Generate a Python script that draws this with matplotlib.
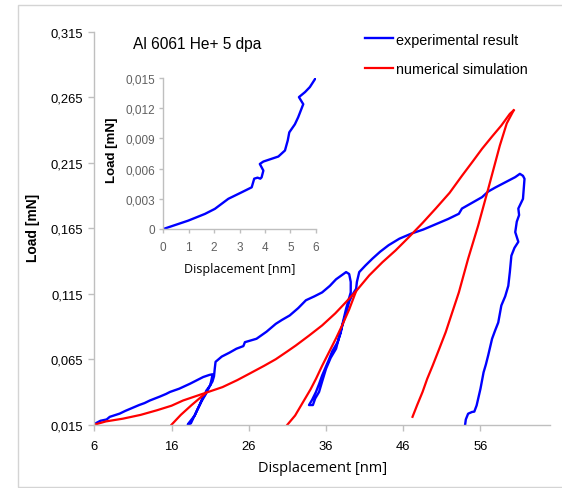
import matplotlib
matplotlib.use("Agg")
import matplotlib.pyplot as plt
from matplotlib.patches import Rectangle
from matplotlib.ticker import FuncFormatter, FixedLocator
from matplotlib import font_manager

plt.rcParams['font.family'] = ['Liberation Sans', 'DejaVu Sans']
_names = {f.name for f in font_manager.fontManager.ttflist}
narrow = 'Liberation Sans Narrow' if 'Liberation Sans Narrow' in _names else 'Liberation Sans'
tick_main = 10.8 if narrow != 'Liberation Sans' else 9.4
tick_inset = 9.3 if narrow != 'Liberation Sans' else 8.5

# ---------------- data ----------------
exp_x = [6.0, 6.8, 7.6, 8.0, 9.3, 10.0, 10.6, 11.8, 12.5, 13.2, 14.5, 15.3, 15.8, 17.0, 18.4, 19.3, 20.1, 20.9, 21.3,
         21.2, 21.0, 20.5, 20.3, 19.9, 19.7, 19.3, 19.0, 18.6, 18.2, 18.1,
         18.5, 18.9, 19.4, 19.9, 20.4, 20.9, 21.3, 21.5, 21.6, 21.7, 22.5, 23.5, 24.4, 25.3, 25.5, 27.0,
         28.3, 29.5, 30.3, 31.3, 32.4, 33.4, 34.5, 35.5, 36.5, 37.3, 38.0, 38.6, 39.0,
         39.2, 39.2, 38.6, 38.1, 37.9, 37.5, 36.8, 36.4, 35.9, 35.5, 35.1, 34.7, 34.2, 33.8,
         34.3, 34.6, 35.1, 35.5, 36.0, 36.6, 37.3, 37.7, 38.1, 38.6, 39.0, 39.4, 39.9, 40.0, 40.3,
         41.1, 42.0, 43.0, 44.1, 45.5, 47.1, 48.6, 50.2, 51.8, 53.2, 53.6, 54.8, 56.2, 57.0, 57.9,
         59.2, 60.5, 61.1, 61.5, 61.7,
         61.6, 61.5, 60.9, 61.0, 60.7, 60.5, 60.9, 60.4, 60.0, 59.8, 59.6, 59.2, 58.7, 58.3, 57.9,
         57.5, 57.0, 56.7, 56.4, 56.0, 55.5, 55.2, 54.9, 54.4, 54.1, 54.0]
exp_y = [0.0155, 0.018, 0.019, 0.021, 0.0235, 0.0255, 0.027, 0.030, 0.0315, 0.0335, 0.0365, 0.0385, 0.040, 0.0425,
         0.0463, 0.049, 0.0514, 0.053, 0.0535,
         0.050, 0.045, 0.041, 0.038, 0.034, 0.031, 0.026, 0.022, 0.019, 0.016, 0.015,
         0.016, 0.021, 0.027, 0.033, 0.038, 0.044, 0.048, 0.052, 0.058, 0.063, 0.067, 0.070, 0.073, 0.075, 0.078, 0.0806,
         0.086, 0.092, 0.095, 0.0984, 0.104, 0.110, 0.113, 0.116, 0.121, 0.126, 0.129, 0.1315, 0.130,
         0.124, 0.116, 0.1035, 0.091, 0.085, 0.078, 0.071, 0.065, 0.058, 0.0526, 0.046, 0.040, 0.034, 0.030,
         0.030, 0.035, 0.040, 0.048, 0.0577, 0.066, 0.073, 0.082, 0.0905, 0.100, 0.109, 0.114, 0.1188, 0.124, 0.1315,
         0.1365, 0.1417, 0.147, 0.152, 0.157, 0.161, 0.164, 0.168, 0.172, 0.176, 0.180, 0.184, 0.1887, 0.193, 0.196,
         0.200, 0.204, 0.2065, 0.205, 0.2027,
         0.195, 0.1874, 0.180, 0.175, 0.170, 0.162, 0.1546, 0.150, 0.144, 0.1315, 0.121, 0.113, 0.106, 0.093, 0.087,
         0.0806, 0.068, 0.061, 0.055, 0.0425, 0.0297, 0.025, 0.0247, 0.0234, 0.019, 0.0145]

sim_load_x = [6.0, 7.5, 9.7, 12.0, 14.1, 16.0, 17.5, 19.0, 20.5, 22.6, 24.5, 26.1, 28.0, 29.5, 31.0, 32.1,
              33.8, 35.5, 37.2, 38.6, 39.9, 41.6, 43.3, 45.0, 46.7, 48.5, 50.2, 52.0, 53.6, 55.0, 56.2,
              57.5, 58.7, 59.8, 60.3]
sim_load_y = [0.015, 0.0175, 0.0196, 0.0225, 0.026, 0.0295, 0.0335, 0.0365, 0.0395, 0.0437, 0.049, 0.054, 0.060,
              0.065, 0.071, 0.0755, 0.083, 0.0908, 0.100, 0.1087, 0.117, 0.129, 0.139, 0.148, 0.158, 0.169,
              0.180, 0.192, 0.205, 0.216, 0.2256, 0.235, 0.2434, 0.2523, 0.255]
sim_unload1_x = [16.0, 17.2, 18.6, 20.0, 20.5]
sim_unload1_y = [0.015, 0.0225, 0.030, 0.037, 0.0395]
sim_unload2_x = [31.0, 32.0, 33.0, 34.0, 34.7, 35.5, 36.4, 37.3, 38.1, 39.0, 39.9]
sim_unload2_y = [0.015, 0.022, 0.032, 0.042, 0.050, 0.060, 0.0705, 0.081, 0.091, 0.103, 0.117]
sim_unload3_x = [60.3, 59.4, 58.5, 57.0, 55.7, 54.4, 53.2, 52.3, 51.5, 50.6, 49.8, 49.1, 48.5, 47.8, 47.2]
sim_unload3_y = [0.255, 0.245, 0.228, 0.195, 0.167, 0.1417, 0.116, 0.100, 0.0857, 0.072, 0.060, 0.050, 0.040,
                 0.030, 0.021]

inset_x = [0.0, 0.98, 1.64, 2.03, 2.56, 3.08, 3.48, 3.58, 3.71, 3.82, 3.87, 3.94, 3.80, 3.94, 4.53, 4.79,
           4.90, 4.96, 5.18, 5.31, 5.51, 5.34, 5.58, 5.77, 6.0]
inset_y = [0.0, 0.00083, 0.0015, 0.002, 0.003, 0.00364, 0.00414, 0.0050, 0.0051, 0.0050, 0.00513, 0.0058,
           0.00646, 0.0067, 0.0072, 0.0078, 0.0088, 0.0096, 0.0104, 0.0111, 0.0124, 0.0131, 0.0136, 0.0141, 0.015]

main_xticks = [6, 16, 26, 36, 46, 56]
main_yticks = [0.015, 0.065, 0.115, 0.165, 0.215, 0.265, 0.315]
inset_xticks = [0, 1, 2, 3, 4, 5, 6]
inset_yticks = [0, 0.003, 0.006, 0.009, 0.012, 0.015]

label_exp = "experimental result"
label_sim = "numerical simulation"
title_text = "Al 6061 He+ 5 dpa"

# ---------------- figure ----------------
W, H = 562, 489
fig = plt.figure(figsize=(W / 100, H / 100), dpi=100)
fig.patch.set_facecolor('white')

fig.add_artist(Rectangle((18.3 / W, 1 - 487.7 / H), (W + 5 - 18.3) / W, (487.7 - 6) / H,
                         transform=fig.transFigure, fill=False, edgecolor='#d4d4d4', lw=1.0))

spine_col = '#bfbfbf'
blue = '#0000ff'
red = '#ff0000'

AX_L, AX_R, AX_B, AX_T = 94.3, 550, 425.7, 32.7
ax = fig.add_axes([AX_L / W, 1 - AX_B / H, (AX_R - AX_L) / W, (AX_B - AX_T) / H])
ax.plot(exp_x, exp_y, color=blue, lw=1.7, label=label_exp, solid_joinstyle='round')
ax.plot(sim_load_x, sim_load_y, color=red, lw=1.6, label=label_sim)
ax.plot(sim_unload1_x, sim_unload1_y, color=red, lw=1.6)
ax.plot(sim_unload2_x, sim_unload2_y, color=red, lw=1.6)
ax.plot(sim_unload3_x, sim_unload3_y, color=red, lw=1.6)
ax.set_xlim(6, 65)
ax.set_ylim(0.015, 0.315)
for s in ['top', 'right']:
    ax.spines[s].set_visible(False)
for s in ['left', 'bottom']:
    ax.spines[s].set_color(spine_col)
    ax.spines[s].set_linewidth(1.0)
ax.xaxis.set_major_locator(FixedLocator(main_xticks))
ax.yaxis.set_major_locator(FixedLocator(main_yticks))
ax.yaxis.set_major_formatter(FuncFormatter(lambda v, p: f"{v:.3f}".replace('.', ',')))
ax.xaxis.set_major_formatter(FuncFormatter(lambda v, p: f"{int(round(v))}"))
ax.tick_params(axis='both', length=4, width=1, color=spine_col, labelsize=tick_main, labelcolor='black', pad=4)
ax.tick_params(axis='x', pad=7)
for t in ax.get_xticklabels() + ax.get_yticklabels():
    t.set_family(narrow)
ax.set_xlabel("Displacement [nm]", fontsize=10.5, family=['Open Sans', 'DejaVu Sans'])
ax.xaxis.set_label_coords(0.5, -(461 - AX_B) / (AX_B - AX_T))
ax.set_ylabel("Load [mN]", fontsize=10, fontweight='bold')
ax.yaxis.set_label_coords(-(AX_L - 40) / (AX_R - AX_L), (AX_B - 228) / (AX_B - AX_T))

leg = ax.legend(loc='upper left', bbox_to_anchor=(365 / W, 1 - 33.5 / H), bbox_transform=fig.transFigure,
                frameon=False, fontsize=10.4, handlelength=1.92, handletextpad=0.25, labelspacing=1.05,
                borderpad=0, borderaxespad=0)

fig.text(132.7 / W, 1 - 45 / H, title_text, fontsize=11.2, ha='left', va='center')

# ---------------- inset ----------------
IL, IR, IB, IT = 163.3, 315.7, 230, 79
ia = fig.add_axes([IL / W, 1 - IB / H, (IR - IL) / W, (IB - IT) / H])
ia.patch.set_alpha(0)
ia.plot(inset_x, inset_y, color=blue, lw=1.7)
ia.set_xlim(0, 6)
ia.set_ylim(0, 0.015)
for s in ['top', 'right']:
    ia.spines[s].set_visible(False)
for s in ['left', 'bottom']:
    ia.spines[s].set_color(spine_col)
    ia.spines[s].set_linewidth(1.0)
ia.xaxis.set_major_locator(FixedLocator(inset_xticks))
ia.yaxis.set_major_locator(FixedLocator(inset_yticks))
ia.yaxis.set_major_formatter(FuncFormatter(lambda v, p: "0" if abs(v) < 1e-12 else f"{v:.3f}".replace('.', ',')))
ia.xaxis.set_major_formatter(FuncFormatter(lambda v, p: f"{int(round(v))}"))
ia.tick_params(axis='both', length=3, width=1, color=spine_col, labelsize=tick_inset, labelcolor='#606060', pad=3)
ia.tick_params(axis='x', pad=6)
for t in ia.get_xticklabels() + ia.get_yticklabels():
    t.set_family(narrow)
ia.set_xlabel("Displacement [nm]", fontsize=9, family=['Open Sans', 'DejaVu Sans'])
ia.xaxis.set_label_coords(0.5, -(263 - IB) / (IB - IT))
ia.set_ylabel("Load [mN]", fontsize=9.5, fontweight='bold')
ia.yaxis.set_label_coords(-(IL - 118) / (IR - IL), (IB - 150) / (IB - IT))

fig.savefig("out.png", dpi=100)
